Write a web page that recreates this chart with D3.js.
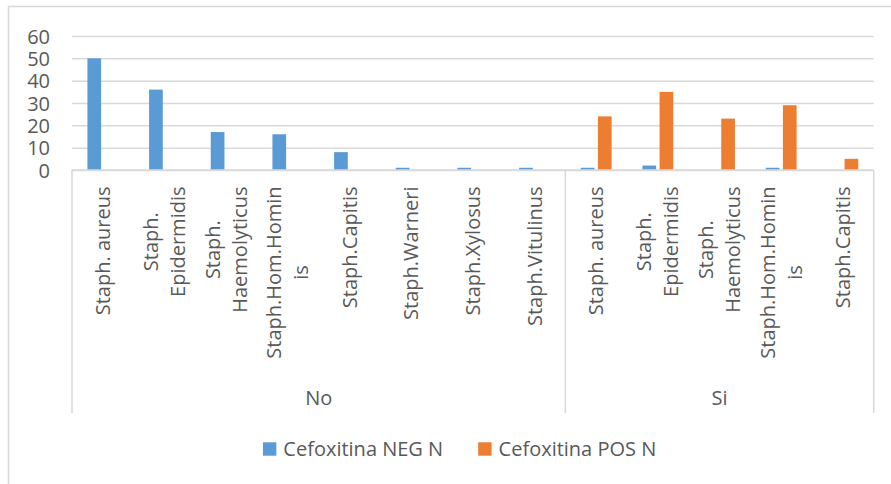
<!DOCTYPE html>
<html>
<head>
<meta charset="utf-8">
<script src="https://cdn.jsdelivr.net/npm/d3@7"></script>
<style>
  html, body { margin: 0; padding: 0; background: #ffffff; }
  svg { display: block; font-family: "Open Sans", "Noto Sans", sans-serif; }
</style>
</head>
<body>
<svg id="chart" width="891" height="484"></svg>
<script>
// Groups on the outer category level
const groups = ["No", "Si"];
// Inner categories, each tagged with its group
const categories = [
  "Staph. aureus", "Staph. Epidermidis", "Staph. Haemolyticus", "Staph.Hom.Hominis",
  "Staph.Capitis", "Staph.Warneri", "Staph.Xylosus", "Staph.Vitulinus",
  "Staph. aureus", "Staph. Epidermidis", "Staph. Haemolyticus", "Staph.Hom.Hominis",
  "Staph.Capitis"
];
const categoryGroup = ["No", "No", "No", "No", "No", "No", "No", "No", "Si", "Si", "Si", "Si", "Si"];
// Wrapped label lines for each category
const categoryLines = [
  ["Staph. aureus"], ["Staph.", "Epidermidis"], ["Staph.", "Haemolyticus"], ["Staph.Hom.Homin", "is"],
  ["Staph.Capitis"], ["Staph.Warneri"], ["Staph.Xylosus"], ["Staph.Vitulinus"],
  ["Staph. aureus"], ["Staph.", "Epidermidis"], ["Staph.", "Haemolyticus"], ["Staph.Hom.Homin", "is"],
  ["Staph.Capitis"]
];
// Series
const seriesNames = ["Cefoxitina NEG N", "Cefoxitina POS N"];
const seriesColors = ["#5b9bd5", "#ed7d31"];
const negValues = [50, 36, 17, 16, 8, 1, 1, 1, 1, 2, 0, 1, 0];
const posValues = [0, 0, 0, 0, 0, 0, 0, 0, 24, 35, 23, 29, 5];
const yTicks = [0, 10, 20, 30, 40, 50, 60];

const svg = d3.select("#chart");
const textColor = "#595959";
const lineColor = "#d9d9d9";
const fontSize = 20;

// Outer chart frame
svg.append("rect")
  .attr("x", 8.5).attr("y", 6.5)
  .attr("width", 900).attr("height", 500)
  .attr("fill", "#ffffff")
  .attr("stroke", lineColor).attr("stroke-width", 1.5);

const plot = { left: 72, right: 873.7, top: 36, bottom: 170 };
const axisBottom = 413;

const idx = categories.map((_, i) => i);
const x0 = d3.scaleBand().domain(idx).range([plot.left, plot.right]).padding(0);
const step = x0.step();
const x1 = d3.scaleBand().domain(seriesNames)
  .range([step * 0.25, step * 0.75]).paddingInner(0.2).paddingOuter(0);
const y = d3.scaleLinear().domain([0, 60]).range([plot.bottom, plot.top]);

// Gridlines and value axis labels
const yAxis = d3.axisLeft(y).tickValues(yTicks)
  .tickSize(-(plot.right - plot.left)).tickPadding(22);
const gy = svg.append("g").attr("transform", `translate(${plot.left},0)`).call(yAxis);
gy.select(".domain").remove();
gy.selectAll(".tick line").attr("stroke", lineColor).attr("stroke-width", 1.5);
gy.selectAll(".tick text")
  .attr("fill", textColor).attr("font-size", fontSize)
  .attr("font-family", "'Open Sans', sans-serif")
  .attr("dy", "0.35em");

// Bars
const series = [negValues, posValues];
const barG = svg.append("g");
series.forEach((vals, s) => {
  barG.selectAll(null)
    .data(vals.map((v, i) => ({ v, i })).filter(d => d.v > 0))
    .join("rect")
    .attr("x", d => x0(d.i) + x1(seriesNames[s]))
    .attr("width", x1.bandwidth())
    .attr("y", d => y(d.v))
    .attr("height", d => y(0) - y(d.v))
    .attr("fill", seriesColors[s]);
});

// Category axis line
svg.append("line")
  .attr("x1", plot.left).attr("x2", plot.right)
  .attr("y1", plot.bottom).attr("y2", plot.bottom)
  .attr("stroke", lineColor).attr("stroke-width", 1.5);

// Group dividers
const groupBounds = [];
groups.forEach(g => {
  const members = idx.filter(i => categoryGroup[i] === g);
  groupBounds.push({ g, x0: x0(members[0]), x1: x0(members[members.length - 1]) + step });
});
const dividerXs = [plot.left].concat(groupBounds.map(b => b.x1));
svg.append("g").selectAll("line").data(dividerXs).join("line")
  .attr("x1", d => d).attr("x2", d => d)
  .attr("y1", plot.bottom).attr("y2", axisBottom)
  .attr("stroke", lineColor).attr("stroke-width", 1.5);

// Rotated category labels
const labelTop = 186.5;
const lineHeight = 27.2;
const labG = svg.append("g");
categoryLines.forEach((lines, i) => {
  const cx = x0(i) + step / 2;
  const t = labG.append("text")
    .attr("fill", textColor).attr("font-size", fontSize)
    .attr("text-anchor", "middle");
  lines.forEach((ln, k) => {
    t.append("tspan").text(ln);
  });
  // measure the longest line to set the block position
  let maxLen = 0;
  t.selectAll("tspan").each(function () {
    maxLen = Math.max(maxLen, this.getComputedTextLength());
  });
  const cy = labelTop + maxLen / 2;
  t.attr("transform", `translate(${cx},${cy}) rotate(-90)`);
  t.selectAll("tspan")
    .attr("x", 0)
    .attr("y", (d, k) => (k - (lines.length - 1) / 2) * lineHeight)
    .attr("dy", "0.35em");
});

// Group labels
svg.append("g").selectAll("text").data(groupBounds).join("text")
  .attr("x", d => (d.x0 + d.x1) / 2)
  .attr("y", 398)
  .attr("dy", "0.35em")
  .attr("text-anchor", "middle")
  .attr("fill", textColor).attr("font-size", fontSize)
  .text(d => d.g);

// Legend
const legG = svg.append("g");
const sw = 13.4, swGap = 7, itemGap = 35;
const items = seriesNames.map((name, s) => {
  const g = legG.append("g");
  g.append("rect").attr("width", sw).attr("height", sw)
    .attr("y", -sw / 2).attr("fill", seriesColors[s]);
  const tx = g.append("text").attr("x", sw + swGap).attr("dy", "0.35em")
    .attr("fill", textColor).attr("font-size", fontSize).text(name);
  return { g, w: sw + swGap + tx.node().getComputedTextLength() };
});
const total = d3.sum(items, d => d.w) + itemGap * (items.length - 1);
let lx = 459.6 - total / 2;
items.forEach(it => {
  it.g.attr("transform", `translate(${lx},449)`);
  lx += it.w + itemGap;
});
</script>
</body>
</html>
